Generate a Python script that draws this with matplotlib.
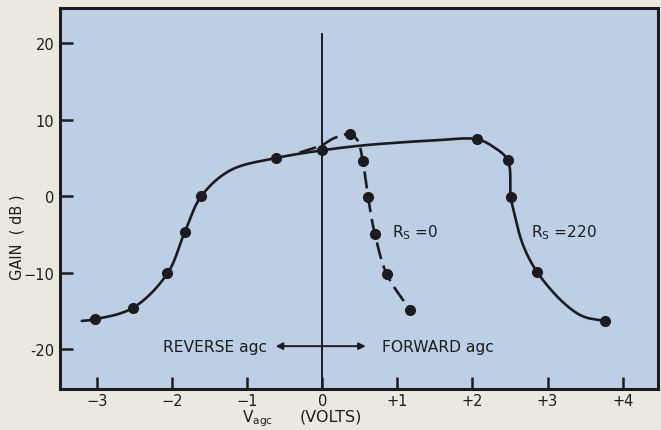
import numpy as np
import matplotlib
matplotlib.use("Agg")
import matplotlib.pyplot as plt

# Measured points (markers) for each source resistance
rs220_v = [-3.03, -2.52, -2.06, -1.83, -1.61, -0.61, 0.0, 2.06, 2.47, 2.51, 2.86, 3.76]
rs220_gain = [-16.1, -14.6, -10.1, -4.7, 0.0, 5.0, 6.0, 7.45, 4.7, -0.1, -9.9, -16.3]

rs0_v = [0.37, 0.54, 0.61, 0.70, 0.86, 1.17]
rs0_gain = [8.1, 4.6, -0.1, -4.9, -10.2, -14.9]

# Hand-faired curve traces through the measured points
rs220_trace_v = [-3.2, -3.03, -2.52, -2.06, -1.83, -1.61, -1.22, -0.61, 0.0, 0.5,
                 1.0, 1.5, 2.06, 2.27, 2.47, 2.51, 2.56, 2.67, 2.86, 3.21, 3.47, 3.76]
rs220_trace_gain = [-16.3, -16.1, -14.6, -10.1, -4.7, 0.0, 3.4, 5.0, 6.0, 6.6,
                    7.0, 7.3, 7.45, 6.5, 4.7, -0.1, -2.35, -6.3, -9.9, -13.9, -15.7, -16.3]

rs0_trace_v = [-0.30, 0.0, 0.16, 0.37, 0.47, 0.54, 0.61, 0.70, 0.86, 1.17]
rs0_trace_gain = [5.7, 6.7, 7.6, 8.1, 7.3, 4.6, -0.1, -4.9, -10.2, -14.9]

x_ticks = [-3, -2, -1, 0, 1, 2, 3, 4]
x_tick_labels = ["\u22123", "\u22122", "\u22121", "0", "+1", "+2", "+3", "+4"]
y_ticks = [-20, -10, 0, 10, 20]
y_tick_labels = ["-20", "\u221210", "0", "10", "20"]


def faired(xs, ys, n=30, sx=9.8):
    """Centripetal Catmull-Rom curve through the given points."""
    P = np.column_stack([np.asarray(xs, float) * sx, np.asarray(ys, float)])
    P = np.vstack([2 * P[0] - P[1], P, 2 * P[-1] - P[-2]])
    out = []
    for i in range(1, len(P) - 2):
        p0, p1, p2, p3 = P[i - 1], P[i], P[i + 1], P[i + 2]
        t0 = 0.0
        t1 = t0 + np.linalg.norm(p1 - p0) ** 0.5
        t2 = t1 + np.linalg.norm(p2 - p1) ** 0.5
        t3 = t2 + np.linalg.norm(p3 - p2) ** 0.5
        t = np.linspace(t1, t2, n)[:, None]
        a1 = (t1 - t) / (t1 - t0) * p0 + (t - t0) / (t1 - t0) * p1
        a2 = (t2 - t) / (t2 - t1) * p1 + (t - t1) / (t2 - t1) * p2
        a3 = (t3 - t) / (t3 - t2) * p2 + (t - t2) / (t3 - t2) * p3
        b1 = (t2 - t) / (t2 - t0) * a1 + (t - t0) / (t2 - t0) * a2
        b2 = (t3 - t) / (t3 - t1) * a2 + (t - t1) / (t3 - t1) * a3
        c = (t2 - t) / (t2 - t1) * b1 + (t - t1) / (t2 - t1) * b2
        out.append(c if i == 1 else c[1:])
    C = np.vstack(out)
    return C[:, 0] / sx, C[:, 1]


ink = "#1c1c1e"
paper = "#ebe8df"
panel = "#bccfe4"

fig = plt.figure(figsize=(6.61, 4.31), dpi=100, facecolor=paper)
ax = fig.add_axes([0.0908, 0.0951, 0.9047, 0.884])
ax.set_facecolor(panel)
ax.set_xlim(-3.49, 4.47)
ax.set_ylim(-25.2, 24.6)

# Rs = 220 curve
cx, cy = faired(rs220_trace_v, rs220_trace_gain)
ax.plot(cx, cy, color=ink, lw=1.9, solid_capstyle="round", zorder=3)
ax.plot(rs220_v, rs220_gain, "o", color=ink, ms=7, zorder=4)

# Rs = 0 curve (dashed)
dx, dy = faired(rs0_trace_v, rs0_trace_gain)
ax.plot(dx, dy, color=ink, lw=1.9, dashes=(6.5, 2.6), zorder=3)
ax.plot(rs0_v, rs0_gain, "o", color=ink, ms=7, zorder=4)

# zero-volt reference line
ax.plot([0, 0], [ax.get_ylim()[0], 21.2], color=ink, lw=1.4, zorder=2)

# labels on the curves
font = dict(family="DejaVu Sans", color=ink)
ax.text(0.93, -4.6, "R$_\\mathrm{S}$ =0", fontsize=11, va="center", ha="left", **font)
ax.text(2.78, -4.6, "R$_\\mathrm{S}$ =220", fontsize=11, va="center", ha="left", **font)

# reverse / forward annotation
ax.text(-0.74, -19.6, "REVERSE agc", fontsize=11.2, va="center", ha="right", **font)
ax.text(0.80, -19.6, "FORWARD agc", fontsize=11.2, va="center", ha="left", **font)
ax.annotate("", xy=(-0.62, -19.6), xytext=(0.58, -19.6),
            arrowprops=dict(arrowstyle="<|-|>", color=ink, lw=1.4,
                            mutation_scale=10, shrinkA=0, shrinkB=0))

# axes styling
for s in ax.spines.values():
    s.set_linewidth(2.2)
    s.set_color(ink)
ax.set_xticks(x_ticks)
ax.set_xticklabels(x_tick_labels, fontsize=10.5, color=ink)
ax.set_yticks(y_ticks)
ax.set_yticklabels(y_tick_labels, fontsize=10.5, color=ink)
ax.tick_params(axis="both", direction="in", length=9, width=1.8, color=ink)
ax.tick_params(axis="x", pad=3)
ax.tick_params(axis="y", pad=4)

fig.text(0.025, 0.45, "GAIN  ( dB )", rotation=90, fontsize=10.5,
         ha="center", va="center", **font)
fig.text(0.366, 0.021, "V$_\\mathrm{agc}$", fontsize=11,
         ha="left", va="baseline", **font)
fig.text(0.454, 0.021, "(VOLTS)", fontsize=11.5,
         ha="left", va="baseline", **font)

fig.savefig("out.png", dpi=100, facecolor=paper)
